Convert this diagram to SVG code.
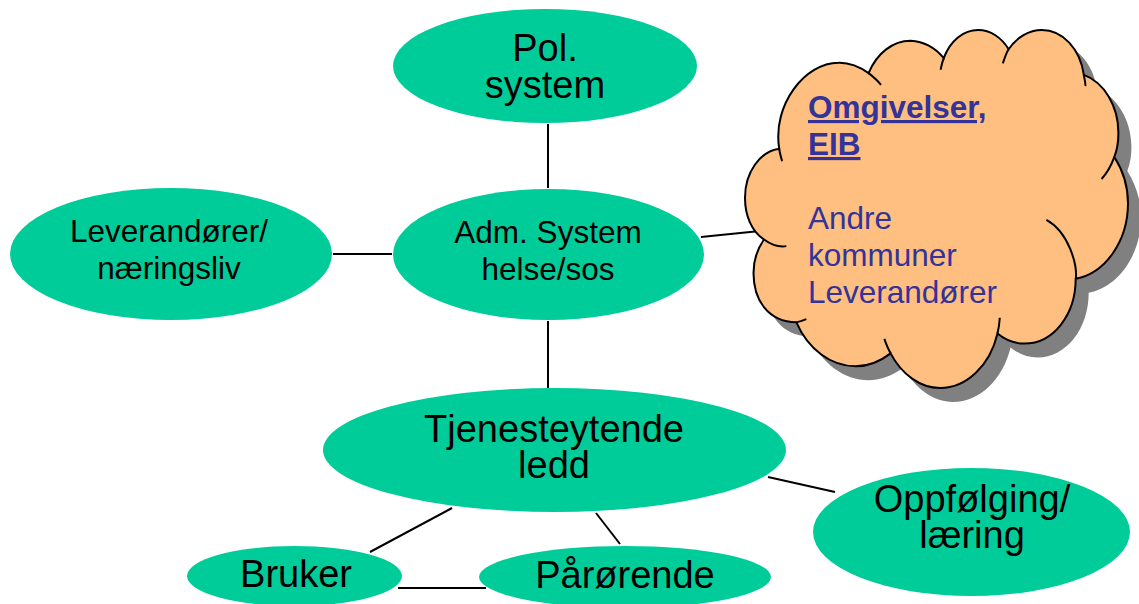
<svg xmlns="http://www.w3.org/2000/svg" width="1139" height="604" viewBox="0 0 1139 604">
<style>
.n{fill:#00CC99}
.t{font-family:"Liberation Sans",Arial,sans-serif;fill:#000;text-anchor:middle}
.big{font-size:38px}
.sm{font-size:31.5px}
.c line{stroke:#000;stroke-width:2}
.ct{font-family:"Liberation Sans",Arial,sans-serif;font-size:31.5px;fill:#333399}
.ol{stroke:#000;stroke-width:2;vector-effect:non-scaling-stroke}
</style>
<defs>
<path id="cloudP" d="M1930,7160 C1530,4490 3400,1970 5270,1970 C5860,1950 6470,2210 6970,2600 C7450,1390 8340,650 9340,650 C10004,690 10710,1050 11210,1700 C11570,630 12330,0 13150,0 C13840,0 14470,460 14870,1160 C15330,440 16020,0 16740,0 C17910,0 18900,1130 19110,2710 C20240,3150 21060,4580 21060,6220 C21060,6720 21000,7200 20830,7660 C21310,8460 21600,9450 21600,10460 C21600,12750 20310,14680 18650,15010 C18650,17200 17370,18920 15770,18920 C15220,18920 14700,18710 14240,18310 C13820,20240 12490,21600 11000,21600 C9890,21600 8840,20790 8210,19510 C7620,20000 6930,20290 6240,20290 C4850,20290 3570,19280 2900,17640 C1300,17600 480,16300 480,14660 C480,13900 690,13210 1070,12640 C380,12160 0,11210 0,10120 C0,8590 840,7330 1930,7160 Z"/>
</defs>
<rect width="1139" height="604" fill="#fff"/>
<g id="connectors" class="c">
<line x1="548" y1="124" x2="548" y2="188"/>
<line x1="333" y1="254" x2="392" y2="254"/>
<line x1="701" y1="237" x2="760" y2="231"/>
<line x1="548" y1="321" x2="548" y2="388"/>
<line x1="768" y1="477" x2="835" y2="492"/>
<line x1="452" y1="508" x2="370" y2="552"/>
<line x1="596" y1="513" x2="620" y2="544"/>
<line x1="398" y1="588" x2="486" y2="588"/>
</g>
<g id="pol">
<ellipse class="n" cx="545" cy="66" rx="152" ry="57"/>
<text class="t big" x="545" y="61">Pol.</text>
<text class="t big" x="545" y="98">system</text>
</g>
<g id="adm">
<ellipse class="n" cx="548.5" cy="254.5" rx="155.5" ry="65.5"/>
<text class="t sm" x="548" y="243">Adm. System</text>
<text class="t sm" x="548" y="280">helse/sos</text>
</g>
<g id="leverandorer">
<ellipse class="n" cx="171" cy="254" rx="161" ry="66"/>
<text class="t sm" x="169" y="242">Leverandører/</text>
<text class="t sm" x="169" y="279">næringsliv</text>
</g>
<g id="tjenesteytende">
<ellipse class="n" cx="554.5" cy="450" rx="231.5" ry="62"/>
<text class="t big" x="554" y="442">Tjenesteytende</text>
<text class="t big" x="554" y="478">ledd</text>
</g>
<g id="oppfolging">
<ellipse class="n" cx="971.5" cy="532" rx="158.5" ry="64"/>
<text class="t big" x="972" y="512">Oppfølging/</text>
<text class="t big" x="972" y="548">læring</text>
</g>
<g id="bruker">
<ellipse class="n" cx="294.5" cy="576" rx="107.5" ry="30"/>
<text class="t big" x="296" y="587">Bruker</text>
</g>
<g id="parorende">
<ellipse class="n" cx="625" cy="577" rx="146" ry="31"/>
<text class="t big" x="625" y="588">Pårørende</text>
</g>
<g id="omgivelser">
<g transform="translate(758,44) scale(0.017731,0.016574)">
<use href="#cloudP" fill="#808080"/>
</g>
<g transform="translate(745,30) scale(0.017731,0.016574)">
<path class="ol" fill="#FFBF80" d="M1930,7160 C1530,4490 3400,1970 5270,1970 C5860,1950 6470,2210 6970,2600 C7450,1390 8340,650 9340,650 C10004,690 10710,1050 11210,1700 C11570,630 12330,0 13150,0 C13840,0 14470,460 14870,1160 C15330,440 16020,0 16740,0 C17910,0 18900,1130 19110,2710 C20240,3150 21060,4580 21060,6220 C21060,6720 21000,7200 20830,7660 C21310,8460 21600,9450 21600,10460 C21600,12750 20310,14680 18650,15010 C18650,17200 17370,18920 15770,18920 C15220,18920 14700,18710 14240,18310 C13820,20240 12490,21600 11000,21600 C9890,21600 8840,20790 8210,19510 C7620,20000 6930,20290 6240,20290 C4850,20290 3570,19280 2900,17640 C1300,17600 480,16300 480,14660 C480,13900 690,13210 1070,12640 C380,12160 0,11210 0,10120 C0,8590 840,7330 1930,7160 Z"/>
<path class="ol" fill="none" d="M1930,7160 C1950,7410 2040,7690 2090,7920 M6970,2600 C7200,2790 7480,3050 7670,3310 M11210,1700 C11130,1910 11080,2160 11030,2400 M14870,1160 C14720,1400 14640,1720 14540,2010 M19110,2710 C19130,2890 19230,3290 19190,3380 M20830,7660 C20660,8170 20430,8620 20110,8990 M18660,15010 C18740,14200 18280,12200 17000,11450 M14240,18310 C14320,17980 14350,17680 14370,17360 M8220,19510 C8060,19250 7960,18950 7860,18640 M2900,17640 C3090,17600 3280,17540 3460,17450 M1070,12640 C1400,12900 1780,13130 2330,13040"/>
</g>
<text class="ct" x="808" y="118" font-weight="bold" text-decoration="underline">Omgivelser,</text>
<text class="ct" x="808" y="155" font-weight="bold" text-decoration="underline">EIB</text>
<text class="ct" x="808" y="229">Andre</text>
<text class="ct" x="808" y="266">kommuner</text>
<text class="ct" x="808" y="303">Leverandører</text>
</g>
</svg>
